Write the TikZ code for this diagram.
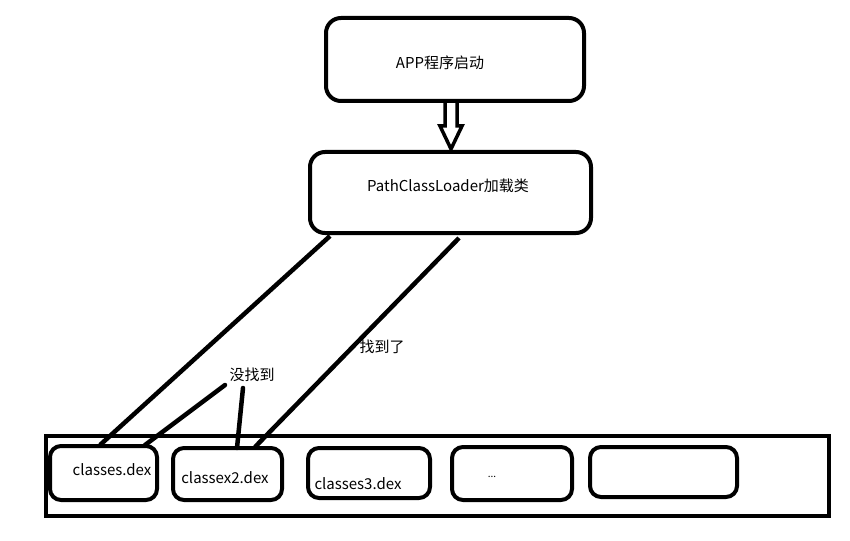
\documentclass[tikz,border=0pt]{standalone}
\usepackage{fontspec}
\setmainfont{Noto Sans CJK SC}
\begin{document}
\begin{tikzpicture}[x=1pt,y=-1pt,
  bigbox/.style={draw,line width=4pt,rounded corners=15pt,inner sep=0pt},
  dexbox/.style={draw,line width=4pt,rounded corners=11pt,inner sep=0pt},
  lbl/.style={inner sep=0pt,font=\fontsize{15}{17}\selectfont},
  conn/.style={line width=4.5pt}]
\useasboundingbox (0,0) rectangle (850,540);
% top boxes
\node[bigbox,minimum width=258pt,minimum height=83pt] (app) at (455,59.5) {};
\node[lbl] (apptxt) at (440,63) {APP程序启动};
\node[bigbox,minimum width=281pt,minimum height=81pt] (pcl) at (450.5,192.5) {};
\node[lbl] (pcltxt) at (448,186) {PathClassLoader加载类};
% hollow arrow
\draw[line width=3.5pt,line join=miter] (445,103)--(445,126)--(440,126)--(451,149)--(462,126)--(457,126)--(457,103);
% outer container
\node[draw,line width=4pt,minimum width=783pt,minimum height=80pt,inner sep=0pt] (cont) at (437.5,475.5) {};
% dex boxes
\node[dexbox,minimum width=107pt,minimum height=54pt] (d1) at (103.5,473) {};
\node[lbl] (t1) at (112,470) {classes.dex};
\node[dexbox,minimum width=109pt,minimum height=52pt] (d2) at (227.5,474) {};
\node[lbl] (t2) at (225,478) {classex2.dex};
\node[dexbox,minimum width=122pt,minimum height=50pt] (d3) at (369,473) {};
\node[lbl] (t3) at (358,484) {classes3.dex};
\node[dexbox,minimum width=120pt,minimum height=53pt] (d4) at (512,473.5) {};
\node[lbl,font=\fontsize{10}{12}\selectfont] (t4) at (492,477) {...};
\node[dexbox,minimum width=147pt,minimum height=50pt] (d5) at (663.5,472) {};
% labels
\node[lbl] (nf) at (252,375) {没找到};
\node[lbl] (found) at (382,347) {找到了};
% connector endpoints
\coordinate (p1s) at (330,236);
\coordinate (p1e) at (100,445);
\coordinate (p2s) at (459,238);
\coordinate (p2e) at (255,447);
\coordinate (n1s) at (225,385);
\coordinate (n1e) at (145,445);
\coordinate (n2s) at (243,388);
\coordinate (n2e) at (237,448);
\draw[conn] (p1s) -- (p1e);
\draw[conn] (p2s) -- (p2e);
\draw[conn,line cap=round] (n1s) -- (n1e);
\draw[conn,line cap=round] (n2s) -- (n2e);
\end{tikzpicture}
\end{document}
